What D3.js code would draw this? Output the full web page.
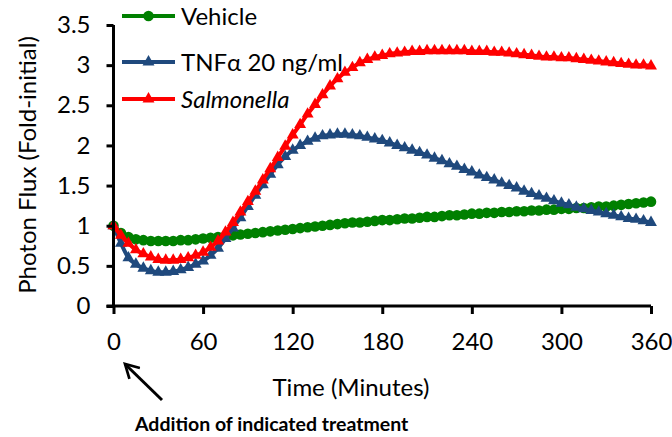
<!DOCTYPE html>
<html>
<head>
<meta charset="utf-8">
<script src="https://cdn.jsdelivr.net/npm/d3@7"></script>
<style>
  body { margin: 0; background: #fff; }
  svg { display: block; font-family: Lato, 'Open Sans', sans-serif; }
</style>
</head>
<body>
<div id="chart"></div>
<script>
// Time points (minutes), one reading every 5 min
const minutes = [
  0, 5, 10, 15, 20, 25, 30, 35, 40, 45, 50, 55,
  60, 65, 70, 75, 80, 85, 90, 95, 100, 105, 110, 115,
  120, 125, 130, 135, 140, 145, 150, 155, 160, 165, 170, 175,
  180, 185, 190, 195, 200, 205, 210, 215, 220, 225, 230, 235,
  240, 245, 250, 255, 260, 265, 270, 275, 280, 285, 290, 295,
  300, 305, 310, 315, 320, 325, 330, 335, 340, 345, 350, 355, 360
];

const vehicle = [
  1.0, 0.91, 0.86, 0.83, 0.82, 0.81, 0.81, 0.81, 0.81, 0.82, 0.82, 0.83,
  0.84, 0.85, 0.86, 0.87, 0.88, 0.89, 0.9, 0.91, 0.92, 0.93, 0.94, 0.95,
  0.96, 0.97, 0.98, 0.99, 1.0, 1.01, 1.02, 1.03, 1.04, 1.04, 1.05, 1.06,
  1.07, 1.07, 1.08, 1.09, 1.09, 1.1, 1.11, 1.11, 1.12, 1.13, 1.13, 1.14,
  1.15, 1.15, 1.16, 1.16, 1.17, 1.17, 1.18, 1.18, 1.19, 1.19, 1.2, 1.2,
  1.21, 1.21, 1.22, 1.22, 1.23, 1.24, 1.24, 1.25, 1.26, 1.27, 1.28, 1.29, 1.3
];

const tnf = [
  1.0, 0.78, 0.6, 0.52, 0.47, 0.44, 0.42, 0.42, 0.43, 0.45, 0.48, 0.52,
  0.56, 0.63, 0.72, 0.84, 0.97, 1.1, 1.24, 1.38, 1.51, 1.64, 1.76, 1.86,
  1.94, 2.0, 2.05, 2.09, 2.12, 2.13, 2.14, 2.14, 2.13, 2.12, 2.1, 2.08,
  2.06, 2.03, 2.0, 1.97, 1.94, 1.91, 1.88, 1.84, 1.81, 1.77, 1.74, 1.7,
  1.67, 1.63, 1.6, 1.57, 1.53, 1.5, 1.47, 1.43, 1.4, 1.37, 1.34, 1.31,
  1.28, 1.26, 1.23, 1.21, 1.19, 1.17, 1.15, 1.13, 1.11, 1.09, 1.08, 1.06, 1.04
];

const salmonella = [
  1.0, 0.88, 0.78, 0.7, 0.65, 0.61, 0.58, 0.57, 0.57, 0.58, 0.6, 0.63,
  0.67, 0.73, 0.81, 0.92, 1.04, 1.17, 1.3, 1.43, 1.57, 1.71, 1.85, 1.99,
  2.13, 2.26, 2.39, 2.51, 2.63, 2.74, 2.83, 2.91, 2.97, 3.03, 3.07, 3.1,
  3.12, 3.14, 3.15, 3.16, 3.17, 3.17, 3.18, 3.18, 3.18, 3.18, 3.18, 3.18,
  3.17, 3.17, 3.17, 3.16, 3.16, 3.15, 3.14, 3.13, 3.12, 3.11, 3.1, 3.1,
  3.09, 3.09, 3.08, 3.07, 3.06, 3.05, 3.04, 3.03, 3.02, 3.01, 3.0, 3.0, 2.99
];

const xTicks = [0, 60, 120, 180, 240, 300, 360];
const yTicks = [0, 0.5, 1, 1.5, 2, 2.5, 3, 3.5];

const seriesList = [
  { name: 'Vehicle', values: vehicle, color: '#008000', marker: 'circle', italic: false },
  { name: 'TNFα 20 ng/ml', values: tnf, color: '#1F497D', marker: 'triangle', italic: false },
  { name: 'Salmonella', values: salmonella, color: '#FF0000', marker: 'triangle', italic: true },
];

const totalWidth = 672;
const totalHeight = 437;
const fontSize = 24;

const xScale = d3.scaleLinear().domain([0, 360]).range([113.5, 651]);
const yScale = d3.scaleLinear().domain([0, 3.5]).range([306, 25]);

const svg = d3
  .select('#chart')
  .append('svg')
  .attr('width', totalWidth)
  .attr('height', totalHeight)
  .attr('viewBox', `0 0 ${totalWidth} ${totalHeight}`);

const triangle = d3.symbol().type(d3.symbolTriangle).size(62);

// Render series: line first, then markers on top
seriesList.forEach((s) => {
  const points = minutes.map((t, i) => ({ t, v: s.values[i] }));
  const line = d3
    .line()
    .x((d) => xScale(d.t))
    .y((d) => yScale(d.v))
    .curve(d3.curveMonotoneX);

  const g = svg.append('g');
  g.append('path')
    .datum(points)
    .attr('d', line)
    .attr('fill', 'none')
    .attr('stroke', s.color)
    .attr('stroke-width', 4);

  if (s.marker === 'circle') {
    g.selectAll('circle')
      .data(points)
      .join('circle')
      .attr('cx', (d) => xScale(d.t))
      .attr('cy', (d) => yScale(d.v))
      .attr('r', 5.3)
      .attr('fill', s.color);
  } else {
    g.selectAll('path.mark')
      .data(points)
      .join('path')
      .attr('class', 'mark')
      .attr('d', triangle)
      .attr('transform', (d) => `translate(${xScale(d.t)},${yScale(d.v)})`)
      .attr('fill', s.color);
  }
});

// Render y axis
svg
  .append('g')
  .attr('transform', `translate(${xScale(0)},0)`)
  .call(
    d3.axisLeft(yScale)
      .tickValues(yTicks)
      .tickFormat((d) => String(d))
      .tickSize(7)
      .tickPadding(16)
  )
  .call((g) => {
    g.select('.domain').attr('stroke', '#000').attr('stroke-width', 3).attr('d', `M0,${yScale(0)}V${yScale(3.5)}`);
    g.selectAll('.tick line').attr('stroke', '#000').attr('stroke-width', 3);
    g.selectAll('.tick text').attr('font-size', fontSize).attr('fill', '#000').attr('font-family', 'Lato, sans-serif');
  });

// Render x axis
svg
  .append('g')
  .attr('transform', `translate(0,${yScale(0)})`)
  .call(
    d3.axisBottom(xScale)
      .tickValues(xTicks)
      .tickFormat((d) => String(d))
      .tickSize(8)
      .tickPadding(19)
  )
  .call((g) => {
    g.select('.domain').attr('stroke', '#000').attr('stroke-width', 3).attr('d', `M${xScale(0) - 7},0H${xScale(360)}`);
    g.selectAll('.tick line').attr('stroke', '#000').attr('stroke-width', 3);
    g.selectAll('.tick text').attr('font-size', fontSize).attr('fill', '#000').attr('font-family', 'Lato, sans-serif');
  });

// Axis titles
svg
  .append('text')
  .attr('text-anchor', 'middle')
  .attr('x', 351)
  .attr('y', 396)
  .attr('font-size', fontSize)
  .text('Time (Minutes)');

svg
  .append('text')
  .attr('text-anchor', 'middle')
  .attr('transform', 'translate(36,165) rotate(-90)')
  .attr('font-size', fontSize)
  .text('Photon Flux (Fold-initial)');

// Annotation arrow + text
svg
  .append('defs')
  .append('marker')
  .attr('id', 'arrowhead')
  .attr('viewBox', '0 0 12 12')
  .attr('refX', 10)
  .attr('refY', 6)
  .attr('markerWidth', 6)
  .attr('markerHeight', 6)
  .attr('markerUnits', 'strokeWidth')
  .attr('orient', 'auto')
  .append('path')
  .attr('d', 'M1,1 L10,6 L1,11')
  .attr('fill', 'none')
  .attr('stroke', '#000')
  .attr('stroke-width', 1.8);

svg
  .append('line')
  .attr('x1', 162)
  .attr('y1', 400)
  .attr('x2', 125)
  .attr('y2', 364)
  .attr('stroke', '#000')
  .attr('stroke-width', 3)
  .attr('marker-end', 'url(#arrowhead)');

svg
  .append('text')
  .attr('x', 135)
  .attr('y', 431)
  .attr('font-size', 19.5)
  .attr('font-weight', 'bold')
  .text('Addition of indicated treatment');

// Legend
const legendRows = [16, 62, 99];
const legend = svg.append('g');
seriesList.forEach((s, i) => {
  const row = legend.append('g').attr('transform', `translate(0,${legendRows[i]})`);
  row.append('line')
    .attr('x1', 122)
    .attr('x2', 175)
    .attr('stroke', s.color)
    .attr('stroke-width', 4);
  if (s.marker === 'circle') {
    row.append('circle').attr('cx', 148.5).attr('r', 5.3).attr('fill', s.color);
  } else {
    row.append('path')
      .attr('d', triangle)
      .attr('transform', 'translate(148.5,0)')
      .attr('fill', s.color);
  }
  row.append('text')
    .attr('x', 181)
    .attr('y', 8.5)
    .attr('font-size', fontSize)
    .attr('font-style', s.italic ? 'italic' : 'normal')
    .text(s.name);
});
</script>
</body>
</html>
